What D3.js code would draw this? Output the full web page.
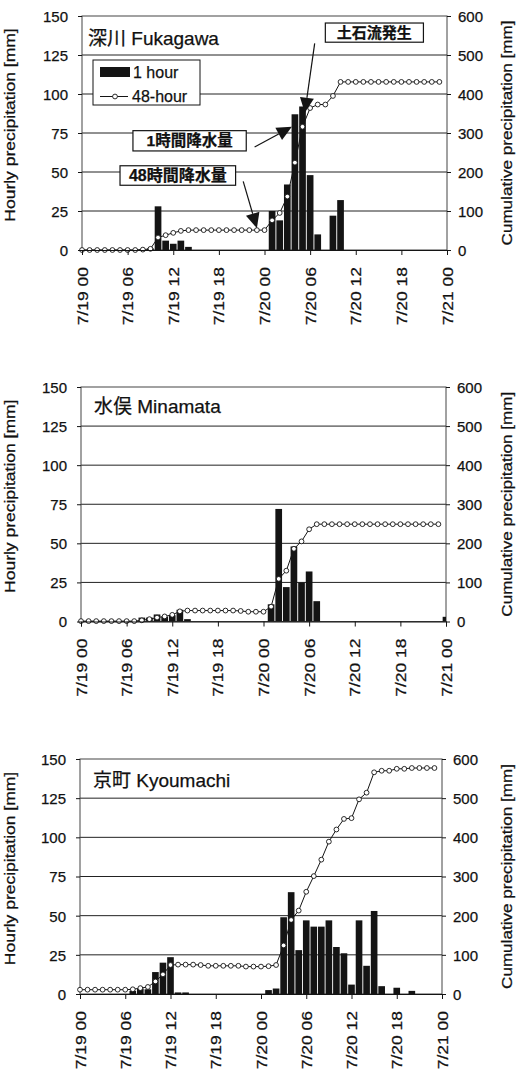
<!DOCTYPE html>
<html>
<head>
<meta charset="utf-8">
<script src="https://cdn.jsdelivr.net/npm/d3@7"></script>
<style>
  html, body { margin: 0; padding: 0; background: #fff; }
  svg { display: block; }
  text { font-family: "Liberation Sans", Arial, "Noto Sans CJK JP", sans-serif; fill: #111; stroke: #111; stroke-width: 0.25px; }
</style>
</head>
<body>
<svg id="chart" width="519" height="1069"></svg>
<script>
// ---- data ---------------------------------------------------------------
// hour index 0 = 7/19 00:00, 48 = 7/21 00:00
const tickHours  = [0, 6, 12, 18, 24, 30, 36, 42, 48];
const tickLabels = ["7/19 00", "7/19 06", "7/19 12", "7/19 18", "7/20 00",
                    "7/20 06", "7/20 12", "7/20 18", "7/21 00"];
const leftTicks  = [0, 25, 50, 75, 100, 125, 150];
const rightTicks = [0, 100, 200, 300, 400, 500, 600];
const legendLabels = ["1 hour", "48-hour"];
const stationNames = ["深川 Fukagawa", "水俣 Minamata", "京町 Kyoumachi"];
const leftTitle  = "Hourly precipitation [mm]";
const rightTitle = "Cumulative precipitation [mm]";

// hourly precipitation [mm], hours 0..48
const fukagawaHourly = [0,0,0,0,0,0,0,0,0.5,1,28,6,4,6,2,0,0,0,0,0,0,0,0,0,0,
                        25,19,42,87,92,48,10,0,22,32,0,0,0,0,0,0,0,0,0,0,0,0,0,0];
const minamataHourly = [0,0,0,0,0,0,0,0,2.5,2.5,4.5,3,4,7.5,1.5,0,0,0,0,0,0,0,0,0,0,
                        11,72,22,48,25,32,13,0,0,0,0,0,0,0,0,0,0,0,0,0,0,0,0,3];
const kyoumachiHourly = [0,0,0,0,0,0,0,2,3.5,3,14,20,23.5,1,1,0,0,0,0,0,0,0,0,0,0,
                         2.5,3.5,49,65,28,47,43,43,47,30,26,6,47,18,53,5,0,4,0,2,0,0,0,0];

// 48-hour precipitation [mm], hours 0..47
const fukagawa48 = [0,0,0,0,0,0,0,0,1,3,32,38,44,49,51,51,51,51,51,51,51,51,51,51,51,
                    76,95,137,224,316,364,373,373,395,431,431,431,431,431,431,431,431,431,431,431,431,431,431];
const minamata48 = [1,1,1,1,1,1,1,1,3,6,10,13,17,26,28,28,28,28,28,28,28,27,25,25,25,
                    38,109,130,186,205,236,249,249,249,249,249,249,249,249,249,249,249,249,249,249,249,249,249];
const kyoumachi48 = [11,11,11,11,11,11,11,12,15,18,32,50,74,75,75,75,74,72,72,72,72,72,70,70,70,
                     71,74,124,189,213,261,301,343,389,420,447,449,497,514,566,570,570,575,575,577,577,577,577];

// ---- layout -------------------------------------------------------------
const panels = [
  { name: stationNames[0], hourly: fukagawaHourly,  total: fukagawa48,  left: 82, right: 447, top: 16,  bottom: 250, titleX: 88, titleY: 45, legend: true },
  { name: stationNames[1], hourly: minamataHourly,  total: minamata48,  left: 81, right: 446, top: 387, bottom: 621.5, titleX: 94, titleY: 413 },
  { name: stationNames[2], hourly: kyoumachiHourly, total: kyoumachi48, left: 80, right: 442, top: 759, bottom: 994, titleX: 93, titleY: 787 }
];

const svg = d3.select("#chart");
const ink = "#141414";

function arrow(g, x1, y1, x2, y2, len = 15, half = 7) {
  const a = Math.atan2(y2 - y1, x2 - x1);
  const bx = x2 - len * Math.cos(a), by = y2 - len * Math.sin(a);
  g.append("line").attr("x1", x1).attr("y1", y1).attr("x2", bx).attr("y2", by)
    .attr("stroke", ink).attr("stroke-width", 1.2);
  const px = -Math.sin(a) * half, py = Math.cos(a) * half;
  g.append("path")
    .attr("d", `M${x2},${y2}L${bx + px},${by + py}L${bx - px},${by - py}Z`)
    .attr("fill", ink);
}

panels.forEach((p, k) => {
  const g = svg.append("g");
  const x  = d3.scaleLinear().domain([0, 48]).range([p.left, p.right]);
  const yL = d3.scaleLinear().domain([0, 150]).range([p.bottom, p.top]);
  const yR = d3.scaleLinear().domain([0, 600]).range([p.bottom, p.top]);
  const step = x(1) - x(0);
  const bw = step * 0.88;

  const clipId = "plot" + k;
  g.append("clipPath").attr("id", clipId).append("rect")
    .attr("x", p.left).attr("y", p.top)
    .attr("width", p.right - p.left).attr("height", p.bottom - p.top);

  // gridlines
  g.append("g").selectAll("line").data(leftTicks.slice(1, -1)).join("line")
    .attr("x1", p.left).attr("x2", p.right)
    .attr("y1", d => yL(d)).attr("y2", d => yL(d))
    .attr("stroke", "#222").attr("stroke-width", 1);

  // plot border
  g.append("rect").attr("x", p.left).attr("y", p.top)
    .attr("width", p.right - p.left).attr("height", p.bottom - p.top)
    .attr("fill", "none").attr("stroke", "#444").attr("stroke-width", 1);

  // hourly bars
  g.append("g").attr("clip-path", `url(#${clipId})`)
    .selectAll("rect").data(p.hourly.map((v, i) => ({ i, v })).filter(d => d.v > 0)).join("rect")
    .attr("x", d => x(d.i) - bw / 2).attr("width", bw)
    .attr("y", d => yL(d.v)).attr("height", d => yL(0) - yL(d.v))
    .attr("fill", ink);

  // 48-hour line
  const line = d3.line().x((d, i) => x(i)).y(d => yR(d));
  g.append("path").datum(p.total).attr("d", line)
    .attr("fill", "none").attr("stroke", ink).attr("stroke-width", 1);
  g.append("g").selectAll("circle").data(p.total).join("circle")
    .attr("cx", (d, i) => x(i)).attr("cy", d => yR(d)).attr("r", 2.4)
    .attr("fill", "#fff").attr("stroke", ink).attr("stroke-width", 0.9);

  // x axis
  const xAxis = g.append("g").attr("transform", `translate(0,${p.bottom})`)
    .call(d3.axisBottom(x).tickValues(tickHours).tickSize(5).tickFormat((d, i) => tickLabels[i]));
  xAxis.select(".domain").attr("stroke", ink);
  xAxis.selectAll(".tick line").attr("stroke", ink);
  xAxis.selectAll(".tick text")
    .attr("y", null).attr("dy", null)
    .attr("text-anchor", "end")
    .attr("font-size", 14)
    .attr("transform", "translate(5,17) rotate(-90) scale(1.25,1)");

  // left axis
  const la = g.append("g").attr("transform", `translate(${p.left},0)`)
    .call(d3.axisLeft(yL).tickValues(leftTicks).tickSize(4).tickPadding(10));
  la.select(".domain").remove();
  la.selectAll(".tick line").attr("stroke", ink);
  la.selectAll(".tick text").attr("font-size", 15).attr("dy", "0.36em");

  // right axis
  const ra = g.append("g").attr("transform", `translate(${p.right},0)`)
    .call(d3.axisRight(yR).tickValues(rightTicks).tickSize(4).tickPadding(7));
  ra.select(".domain").remove();
  ra.selectAll(".tick line").attr("stroke", ink);
  ra.selectAll(".tick text").attr("font-size", 15).attr("dy", "0.36em");

  // axis titles
  const midY = (p.top + p.bottom) / 2;
  g.append("text").attr("text-anchor", "middle").attr("font-size", 14)
    .attr("transform", `translate(14.5,${midY - 8}) rotate(-90) scale(1.25,1)`)
    .text(leftTitle);
  g.append("text").attr("text-anchor", "middle").attr("font-size", 14)
    .attr("transform", `translate(512,${midY}) rotate(-90) scale(1.22,1)`)
    .text(rightTitle);

  // station title
  g.append("text").attr("x", p.titleX).attr("y", p.titleY)
    .attr("font-size", 19).text(p.name);

  if (p.legend) {
    // legend
    const lg = g.append("g");
    lg.append("rect").attr("x", 93).attr("y", 60).attr("width", 107).attr("height", 45)
      .attr("fill", "#fff").attr("stroke", ink).attr("stroke-width", 1);
    lg.append("rect").attr("x", 100).attr("y", 67).attr("width", 30).attr("height", 10).attr("fill", ink);
    lg.append("text").attr("x", 133).attr("y", 78).attr("font-size", 16).text(legendLabels[0]);
    lg.append("line").attr("x1", 100).attr("x2", 128).attr("y1", 96.5).attr("y2", 96.5)
      .attr("stroke", ink).attr("stroke-width", 1);
    lg.append("circle").attr("cx", 115).attr("cy", 96.5).attr("r", 2.4)
      .attr("fill", "#fff").attr("stroke", ink).attr("stroke-width", 0.9);
    lg.append("text").attr("x", 132).attr("y", 102).attr("font-size", 16).text(legendLabels[1]);

    // annotations, placed in data coordinates (hour, mm on the hourly scale)
    const notes = [
      { text: "土石流発生",   box: [32.0, 145.5, 44.9, 133.2], size: 15,
        from: [30.6, 132.5], to: [29.3, 88] },
      { text: "1時間降水量",  box: [6.7, 76.5, 21.6, 63.5], size: 15.5,
        from: [22.7, 66], to: [27.6, 79] },
      { text: "48時間降水量", box: [5.0, 54, 20.2, 41.5], size: 16,
        from: [21.2, 44], to: [23.0, 14] }
    ];
    notes.forEach(n => {
      const bx0 = x(n.box[0]), by0 = yL(n.box[1]), bx1 = x(n.box[2]), by1 = yL(n.box[3]);
      g.append("rect").attr("x", bx0).attr("y", by0)
        .attr("width", bx1 - bx0).attr("height", by1 - by0)
        .attr("fill", "#fff").attr("stroke", ink).attr("stroke-width", 1.2);
      g.append("text").attr("x", (bx0 + bx1) / 2).attr("y", (by0 + by1) / 2)
        .attr("dy", "0.36em").attr("text-anchor", "middle")
        .attr("font-size", n.size).attr("font-weight", 700).text(n.text);
      arrow(g, x(n.from[0]), yL(n.from[1]), x(n.to[0]), yL(n.to[1]));
    });
  }
});
</script>
</body>
</html>
